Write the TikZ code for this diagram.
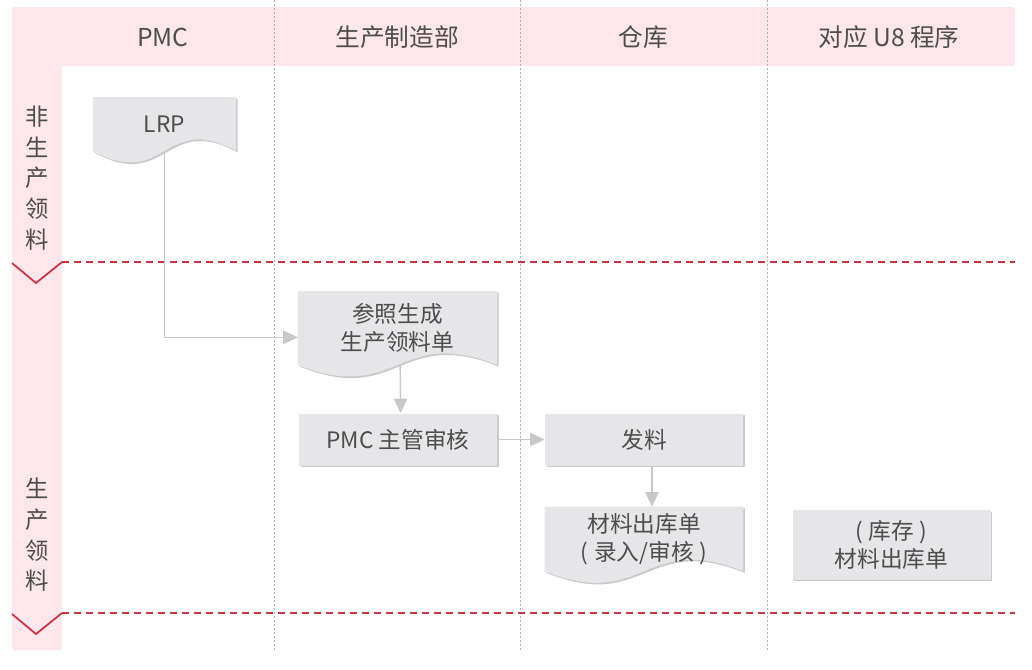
\documentclass[tikz,border=0pt]{standalone}
\usepackage{fontspec}
\setmainfont{Noto Sans CJK SC}
\usetikzlibrary{shadows,backgrounds,arrows.meta}
\definecolor{lanepink}{RGB}{253,231,234}
\definecolor{lanered}{RGB}{204,51,64}
\definecolor{boxgray}{RGB}{230,230,232}
\definecolor{txtgray}{RGB}{77,77,77}
\definecolor{arrgray}{RGB}{200,200,200}
\tikzset{
  lanehead/.style={text=txtgray, font=\fontsize{18.5}{22}\selectfont},
  rowlabel/.style={text=txtgray, align=center, font=\fontsize{17.5}{23}\selectfont},
  proc/.style={rectangle, fill=boxgray, text=txtgray, align=center,
    minimum width=148.5pt, minimum height=39pt,
    font=\fontsize{17}{21}\selectfont,
    drop shadow={shadow xshift=1.2pt, shadow yshift=-1.2pt, opacity=0.35, fill=black!60}},
  docnode/.style={rectangle, text=txtgray, align=center, inner sep=0pt,
    font=\fontsize{17}{21}\selectfont},
  flow/.style={draw=arrgray, line width=1.1pt, -{Triangle[length=11pt, width=10pt]}},
  split/.style={draw=lanered, line width=1.5pt, dash pattern=on 5pt off 4pt},
  chevron/.style={draw=lanered, line width=1.3pt},
  colline/.style={draw=black!30, line width=0.7pt, dash pattern=on 1.5pt off 1.5pt},
}
% wavy-bottom document fill behind a named node
\newcommand{\docfill}[1]{%
  \begin{pgfonlayer}{background}
  \fill[boxgray, drop shadow={shadow xshift=1.2pt, shadow yshift=-1.2pt, opacity=0.35, fill=black!60}]
    (#1.north west) -- (#1.north east) -- (#1.south east)
    .. controls ([yshift=30pt]#1.south) and ([yshift=-30pt]#1.south) .. (#1.south west) -- cycle;
  \end{pgfonlayer}}
\newcommand{\lp}{(\hspace{0.25em}}
\newcommand{\rp}{\hspace{0.25em})}
\begin{document}
\begin{tikzpicture}[x=0.75pt, y=-0.75pt]
\useasboundingbox (0,0) rectangle (1032,669);
% lanes
\fill[lanepink, rounded corners=2pt] (12,7) rectangle (1015,66);
\fill[lanepink, rounded corners=2pt] (12,64) rectangle (62,650);
\foreach \x in {274,520,767}
  \draw[colline] (\x,0) -- (\x,650);
\node[lanehead] (hpmc) at (163,37) {PMC};
\node[lanehead] (hmfg) at (397,37) {生产制造部};
\node[lanehead] (hwh) at (643,37) {仓库};
\node[lanehead] (hu8) at (889,37) {对应 U8 程序};
\node[rowlabel] (rnon) at (37,178) {非\\生\\产\\领\\料};
\node[rowlabel] (rprod) at (37,535) {生\\产\\领\\料};
% row splits
\draw[chevron] (12,263) -- (36,283) -- (62,262);
\draw[split] (62,262) -- (1015,262);
\draw[chevron] (12,614) -- (36,634) -- (62,613);
\draw[split] (62,613) -- (1015,613);
% boxes
\node[docnode, minimum width=107pt, minimum height=40pt] (lrp) at (164.5,124) {LRP};
\docfill{lrp}
\node[docnode, minimum width=149pt, minimum height=55pt] (gen) at (397.5,328) {参照生成\\生产领料单};
\docfill{gen}
\node[proc] (chk) at (398,439.5) {PMC 主管审核};
\node[proc] (issue) at (644,439.5) {发料};
\node[docnode, minimum width=148.5pt, minimum height=48pt] (slip) at (644,539) {材料出库单\\\lp 录入/审核\rp};
\docfill{slip}
\node[proc, minimum height=52pt] (u8slip) at (891.5,545) {\lp 库存\rp\\材料出库单};
% flow
\draw[flow] (lrp.south) |- ([yshift=-7pt]gen.west);
\draw[flow] ([xshift=2pt]gen.south) -- ([xshift=2pt]chk.north);
\draw[flow] (chk.east) -- (issue.west);
\draw[flow] ([xshift=6pt]issue.south) -- ([xshift=6pt]slip.north);
\end{tikzpicture}
\end{document}
